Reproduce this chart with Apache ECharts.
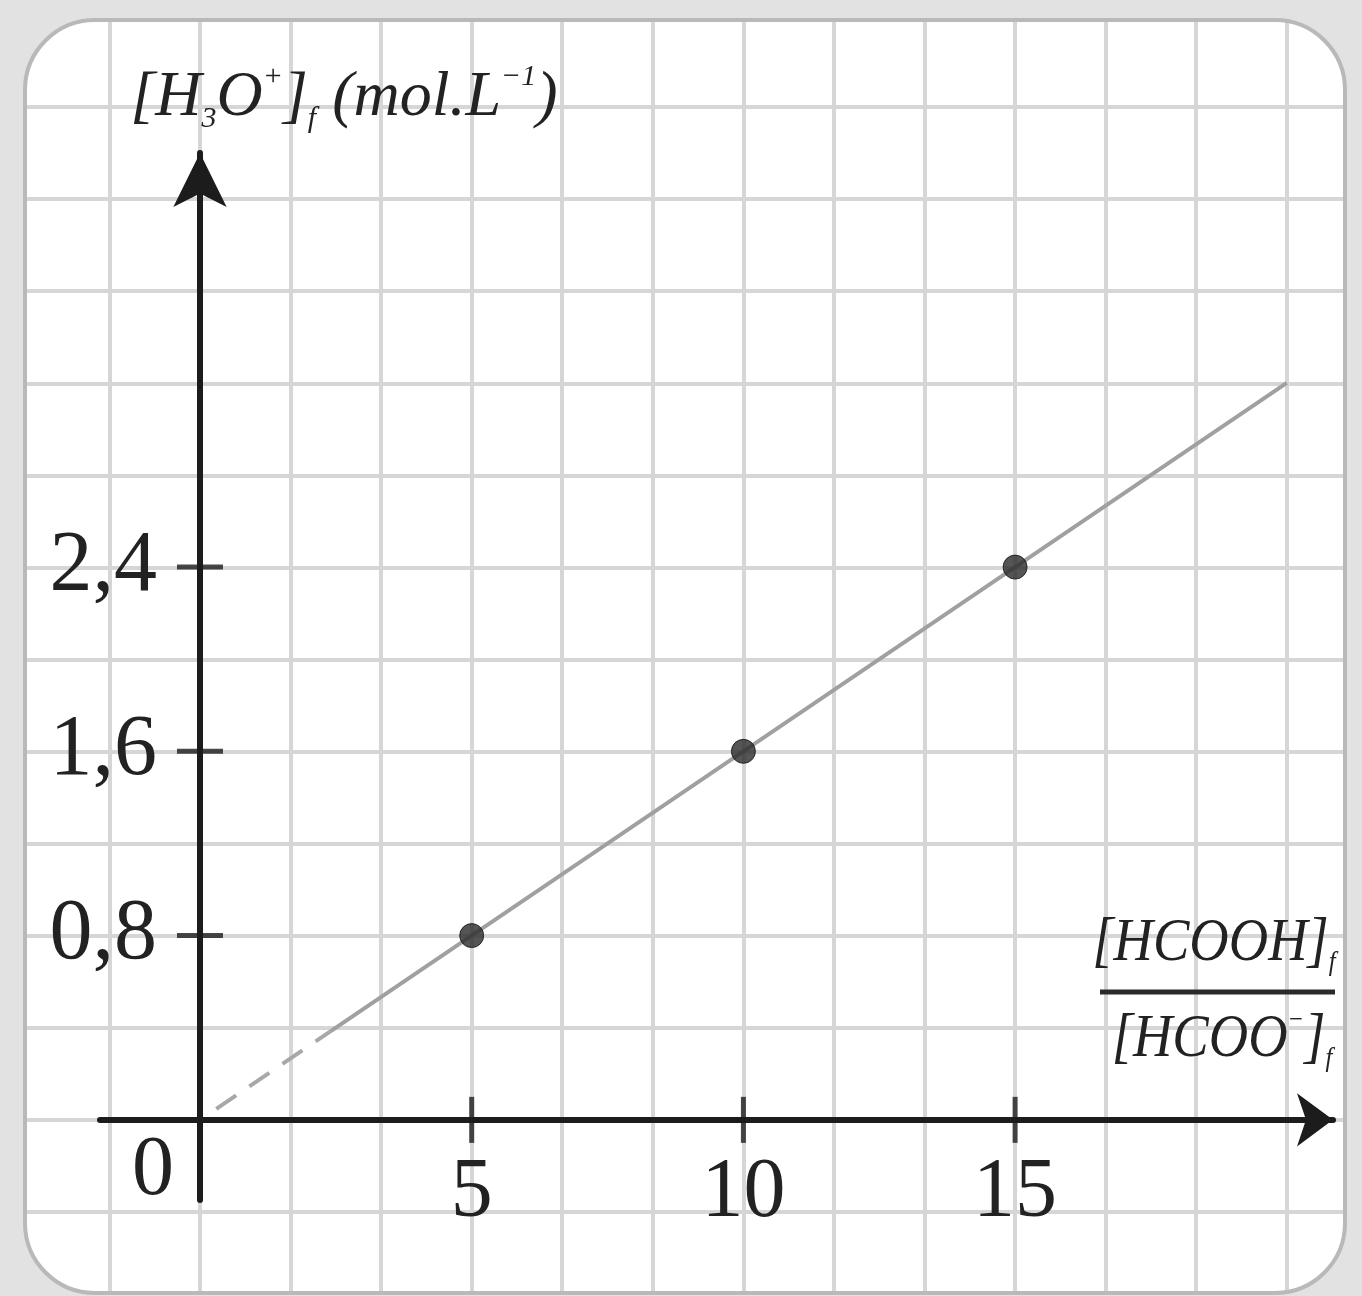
<!DOCTYPE html>
<html>
<head>
<meta charset="utf-8">
<script src="https://cdn.jsdelivr.net/npm/echarts@6.0.0/dist/echarts.min.js"></script>
<style>
  html, body { margin: 0; padding: 0; background: #ffffff; }
  #chart { width: 1362px; height: 1296px; }
</style>
</head>
<body>
<div id="chart"></div>
<script>
// ---- data ----
const ratioValues = [5, 10, 15];              // [HCOOH]/[HCOO-]
const h3oValues = [0.8, 1.6, 2.4];            // [H3O+] (mol/L)
const fitLineSolid = [[2.4, 0.384], [20, 3.2]];
const fitLineDashed = [[0.3, 0.048], [2.4, 0.384]];
const xTickValues = [5, 10, 15];
const xTickLabels = ['5', '10', '15'];
const yTickValues = [0.8, 1.6, 2.4];
const yTickLabels = ['0,8', '1,6', '2,4'];
const originLabel = '0';

const SERIF = '"Liberation Serif", "DejaVu Serif", serif';
const INK = '#1c1c1c';

const chart = echarts.init(document.getElementById('chart'), null, { renderer: 'canvas' });

const pointData = ratioValues.map((x, i) => [x, h3oValues[i]]);
const xTickMarks = xTickValues.map(v => [v, 0]);
const yTickMarks = yTickValues.map(v => [0, v]);

const MASK_W = 200;

const option = {
  animation: false,
  backgroundColor: '#ffffff',
  grid: [
    { left: 100, right: 29, top: 153, bottom: 96, outerBoundsMode: 'none', containLabel: false },
    { left: 18.9, right: -15.2, top: 15, bottom: -8, outerBoundsMode: 'none', containLabel: false }
  ],
  xAxis: [
    {
      type: 'value', gridIndex: 0, min: -1.84, max: 20.85,
      axisLine: { show: true, onZero: true, symbol: ['none', 'arrow'], symbolSize: [40, 36],
        lineStyle: { color: INK, width: 6 } },
      axisTick: { show: false },
      splitLine: { show: false },
      axisLabel: {
        show: true, customValues: xTickValues, margin: -48,
        formatter: v => xTickLabels[xTickValues.indexOf(v)] || '',
        fontFamily: SERIF, fontSize: 84, color: '#222'
      }
    },
    {
      type: 'value', gridIndex: 1, min: -2, max: 13, interval: 1,
      axisLine: { show: false }, axisTick: { show: false }, axisLabel: { show: false },
      splitLine: { show: true, lineStyle: { color: '#d6d6d6', width: 4 } }
    }
  ],
  yAxis: [
    {
      type: 'value', gridIndex: 0, min: -0.348, max: 4.198,
      axisLine: { show: true, onZero: true, symbol: ['none', 'arrow'], symbolSize: [40, 54],
        lineStyle: { color: INK, width: 6 } },
      axisTick: { show: false },
      splitLine: { show: false },
      axisLabel: {
        show: true, customValues: yTickValues, margin: -57,
        formatter: v => yTickLabels[yTickValues.indexOf(v)] || '',
        fontFamily: SERIF, fontSize: 86, color: '#222',
        verticalAlign: 'middle', padding: [0, 0, 34, 0]
      },
      name: '{t|[}{i|H}{sb|3}{i|O}{sp|+}{t|]}{sb|f}{t| (}{i|mol.L}{sp|−1}{t|)}',
      nameLocation: 'end',
      nameGap: 55,
      nameTextStyle: {
        fontFamily: SERIF, fontStyle: 'italic', fontSize: 64, color: '#222',
        align: 'center', verticalAlign: 'middle', padding: [0, 0, 0, 288],
        rich: {
          t: { fontFamily: SERIF, fontStyle: 'italic', fontSize: 64, lineHeight: 72, color: '#222' },
          i: { fontFamily: SERIF, fontStyle: 'italic', fontSize: 64, lineHeight: 72, color: '#222' },
          sb: { fontFamily: SERIF, fontStyle: 'italic', fontSize: 30, lineHeight: 36, verticalAlign: 'bottom', color: '#222' },
          sp: { fontFamily: SERIF, fontStyle: 'italic', fontSize: 30, lineHeight: 40, verticalAlign: 'top', color: '#222' }
        }
      }
    },
    {
      type: 'value', gridIndex: 1, min: -2, max: 12, interval: 1,
      axisLine: { show: false }, axisTick: { show: false }, axisLabel: { show: false },
      splitLine: { show: true, lineStyle: { color: '#d6d6d6', width: 4 } }
    }
  ],
  series: [
    {
      name: 'fit (extrapolated)', type: 'line', xAxisIndex: 0, yAxisIndex: 0,
      data: fitLineDashed, showSymbol: false, silent: true, z: 3,
      lineStyle: { color: '#a8a8a8', width: 4, type: [24, 16] }
    },
    {
      name: 'fit', type: 'line', xAxisIndex: 0, yAxisIndex: 0,
      data: fitLineSolid, showSymbol: false, silent: true, z: 3,
      lineStyle: { color: '#a0a0a0', width: 4 }
    },
    {
      name: 'mesures', type: 'scatter', xAxisIndex: 0, yAxisIndex: 0,
      data: pointData, symbol: 'circle', symbolSize: 24, z: 5,
      itemStyle: { color: '#2a2a2a', borderColor: '#111', borderWidth: 1 }
    },
    {
      name: 'x ticks', type: 'scatter', xAxisIndex: 0, yAxisIndex: 0,
      data: xTickMarks, symbol: 'rect', symbolSize: [5, 46], z: 4, silent: true,
      itemStyle: { color: INK }
    },
    {
      name: 'y ticks', type: 'scatter', xAxisIndex: 0, yAxisIndex: 0,
      data: yTickMarks, symbol: 'rect', symbolSize: [46, 5], z: 4, silent: true,
      itemStyle: { color: INK }
    }
  ],
  graphic: [
    {
      // grey page area outside the rounded frame (thick stroke around the frame)
      type: 'rect', z: 1, silent: true,
      shape: { x: 25 - MASK_W / 2, y: 20 - MASK_W / 2, width: 1320 + MASK_W, height: 1273 + MASK_W, r: 70 + MASK_W / 2 },
      style: { fill: null, stroke: '#e2e2e2', lineWidth: MASK_W }
    },
    {
      type: 'rect', z: 1, silent: true,
      shape: { x: 25, y: 20, width: 1320, height: 1273, r: 70 },
      style: { fill: null, stroke: '#b9b9b9', lineWidth: 4 }
    },
    {
      type: 'text', z: 10, silent: true,
      x: 153, y: 1172,
      style: { text: originLabel, fontFamily: SERIF, fontSize: 84, fill: '#222', align: 'center', verticalAlign: 'middle' }
    },
    {
      type: 'text', z: 10, silent: true,
      x: 1214, y: 944, scaleX: 0.88,
      style: {
        text: '{i|[HCOOH]}{sb|f}', align: 'center', verticalAlign: 'middle',
        rich: {
          i: { fontFamily: SERIF, fontStyle: 'italic', fontSize: 62, lineHeight: 66, fill: '#222' },
          sb: { fontFamily: SERIF, fontStyle: 'italic', fontSize: 28, lineHeight: 34, verticalAlign: 'bottom', fill: '#222' }
        }
      }
    },
    {
      type: 'line', z: 10, silent: true,
      shape: { x1: 1100, y1: 992, x2: 1335, y2: 992 },
      style: { stroke: '#2a2a2a', lineWidth: 5 }
    },
    {
      type: 'text', z: 10, silent: true,
      x: 1222, y: 1040, scaleX: 0.88,
      style: {
        text: '{i|[HCOO}{sp|−}{i|]}{sb|f}', align: 'center', verticalAlign: 'middle',
        rich: {
          i: { fontFamily: SERIF, fontStyle: 'italic', fontSize: 62, lineHeight: 66, fill: '#222' },
          sp: { fontFamily: SERIF, fontStyle: 'italic', fontSize: 28, lineHeight: 34, verticalAlign: 'top', fill: '#222' },
          sb: { fontFamily: SERIF, fontStyle: 'italic', fontSize: 28, lineHeight: 34, verticalAlign: 'bottom', fill: '#222' }
        }
      }
    }
  ]
};

chart.setOption(option);
</script>
</body>
</html>
